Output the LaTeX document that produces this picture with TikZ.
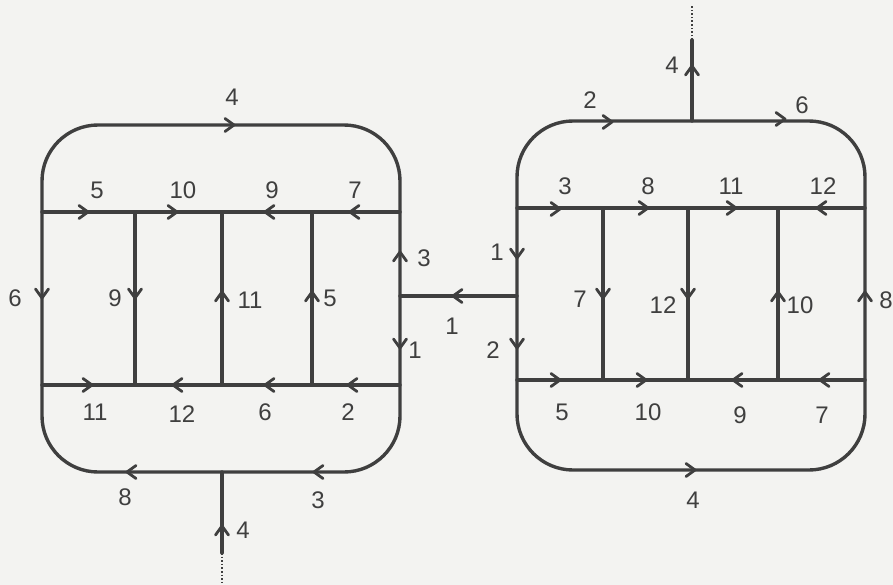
\documentclass[tikz,border=0pt]{standalone}
\usepackage{fontspec}
\setmainfont{Liberation Sans}
\definecolor{ink}{HTML}{3F3F3F}
\definecolor{paper}{HTML}{F3F3F1}
\begin{document}
\begin{tikzpicture}[x=1pt,y=-1pt,line width=3.4pt,
  wire/.style={draw=ink,line cap=round,line join=round},
  box/.style={draw=ink,rounded corners=56pt},
  lab/.style={font=\fontsize{24}{24}\selectfont,text=ink,inner sep=0pt},
  chev/.pic={\draw[ink,line width=2.8pt,line cap=round,line join=round] (-9pt,6.5pt)--(0,0)--(-9pt,-6.5pt);}]
\fill[paper] (0,0) rectangle (893,585);
\useasboundingbox (0,0) rectangle (893,585);
% ---------- left unit ----------
\draw[box] (42,125) rectangle (400,472);
\coordinate (LUl) at (42,212);  \coordinate (LUr) at (400,212);
\coordinate (LLl) at (42,385);  \coordinate (LLr) at (400,385);
\draw[wire] (LUl) -- (LUr);
\draw[wire] (LLl) -- (LLr);
\foreach \x in {135,222,312} \draw[wire] (\x,212) -- (\x,385);
\coordinate (LB) at (222,472); \coordinate (LS) at (222,553); \coordinate (LSd) at (222,585);
\draw[wire] (LB) -- (LS);
\draw[ink,line width=1.6pt,dotted] (LS) -- (LSd);
% ---------- right unit ----------
\draw[box] (517,121) rectangle (865,470);
\coordinate (RUl) at (517,208); \coordinate (RUr) at (865,208);
\coordinate (RLl) at (517,380); \coordinate (RLr) at (865,380);
\draw[wire] (RUl) -- (RUr);
\draw[wire] (RLl) -- (RLr);
\foreach \x in {603,688,778} \draw[wire] (\x,208) -- (\x,380);
\coordinate (RT) at (692,121); \coordinate (RS) at (692,40); \coordinate (RSd) at (692,6);
\draw[wire] (RT) -- (RS);
\draw[ink,line width=1.6pt,dotted] (RS) -- (RSd);
% ---------- connector ----------
\coordinate (CL) at (400,296); \coordinate (CR) at (517,296);
\draw[wire] (CL) -- (CR);
% ---------- arrows left ----------
\pic at (234,125) {chev};
\pic at (88,212) {chev}; \pic at (177,212) {chev};
\pic[rotate=180] at (265,212) {chev}; \pic[rotate=180] at (350,212) {chev};
\pic[rotate=-90] at (42,298) {chev};
\pic[rotate=-90] at (135,298) {chev};
\pic[rotate=90] at (222,292) {chev};
\pic[rotate=90] at (312,292) {chev};
\pic[rotate=90] at (400,252) {chev};
\pic[rotate=-90] at (400,348) {chev};
\pic at (92,385) {chev};
\pic[rotate=180] at (173,385) {chev}; \pic[rotate=180] at (265,385) {chev}; \pic[rotate=180] at (348,385) {chev};
\pic[rotate=180] at (127,472) {chev}; \pic[rotate=180] at (314,472) {chev};
\pic[rotate=90] at (222,526) {chev};
\pic[rotate=180] at (453,296) {chev};
% ---------- arrows right ----------
\pic at (612,122) {chev}; \pic at (785,119) {chev};
\pic[rotate=90] at (692,66) {chev};
\pic at (560,209) {chev}; \pic at (648,208) {chev}; \pic at (736,208) {chev};
\pic[rotate=180] at (817,208) {chev};
\pic[rotate=-90] at (517,258) {chev}; \pic[rotate=-90] at (517,348) {chev};
\pic[rotate=-90] at (603,298) {chev}; \pic[rotate=-90] at (688,298) {chev};
\pic[rotate=90] at (778,292) {chev}; \pic[rotate=90] at (865,292) {chev};
\pic at (560,380) {chev}; \pic at (646,380) {chev};
\pic[rotate=180] at (733,380) {chev}; \pic[rotate=180] at (820,380) {chev};
\pic at (695,470) {chev};
% ---------- labels left ----------
\node[lab] (l1) at (232,97) {4};
\node[lab] (l2) at (97,190) {5};
\node[lab] (l3) at (183,190) {10};
\node[lab] (l4) at (272,190) {9};
\node[lab] (l5) at (355,190) {7};
\node[lab] (l6) at (424,258) {3};
\node[lab] (l7) at (15,298) {6};
\node[lab] (l8) at (115,298) {9};
\node[lab] (l9) at (250,300) {11};
\node[lab] (l10) at (330,298) {5};
\node[lab] (l11) at (415,350) {1};
\node[lab] (l12) at (95,412) {11};
\node[lab] (l13) at (182,414) {12};
\node[lab] (l14) at (265,412) {6};
\node[lab] (l15) at (348,412) {2};
\node[lab] (l16) at (125,497) {8};
\node[lab] (l17) at (318,500) {3};
\node[lab] (l18) at (243,530) {4};
\node[lab] (l19) at (452,326) {1};
% ---------- labels right ----------
\node[lab] (r1) at (590,100) {2};
\node[lab] (r2) at (672,65) {4};
\node[lab] (r3) at (802,105) {6};
\node[lab] (r4) at (565,186) {3};
\node[lab] (r5) at (648,186) {8};
\node[lab] (r6) at (731,186) {11};
\node[lab] (r7) at (823,186) {12};
\node[lab] (r8) at (497,252) {1};
\node[lab] (r9) at (493,350) {2};
\node[lab] (r10) at (580,299) {7};
\node[lab] (r11) at (663,305) {12};
\node[lab] (r12) at (800,305) {10};
\node[lab] (r13) at (886,300) {8};
\node[lab] (r14) at (562,412) {5};
\node[lab] (r15) at (648,412) {10};
\node[lab] (r16) at (740,415) {9};
\node[lab] (r17) at (822,415) {7};
\node[lab] (r18) at (693,500) {4};
\end{tikzpicture}
\end{document}
